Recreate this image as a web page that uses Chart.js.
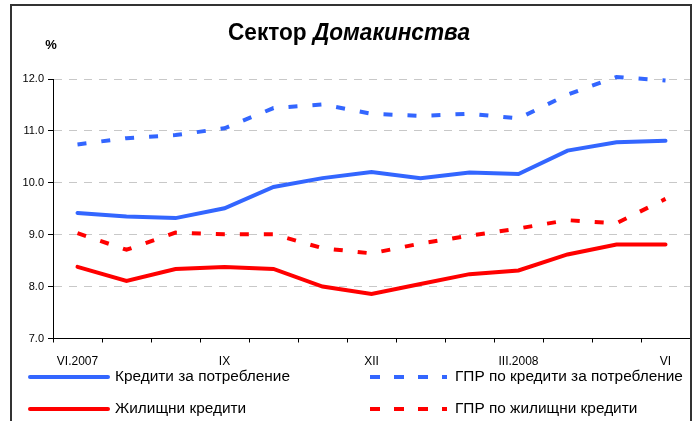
<!DOCTYPE html>
<html>
<head>
<meta charset="utf-8">
<script src="https://cdn.jsdelivr.net/npm/chart.js@4"></script>
<style>
    body { margin: 0; background: #fff; }
    canvas { display: block; }
</style>
</head>
<body>
<canvas id="householdChart" width="698" height="421"></canvas>
<script>
// months VI.2007 - VI.2008, only some of them get a label
const monthLabels = ['VI.2007', '', '', 'IX', '', '', 'XII', '', '', 'III.2008', '', '', 'VI'];
const seriesNames = [
    'Кредити за потребление',
    'ГПР по кредити за потребление',
    'Жилищни кредити',
    'ГПР по жилищни кредити'
];
const consumerRates = [9.42, 9.35, 9.32, 9.51, 9.92, 10.09, 10.21, 10.09, 10.20, 10.17, 10.62, 10.78, 10.81];
const consumerApr = [10.74, 10.86, 10.92, 11.05, 11.44, 11.51, 11.33, 11.29, 11.33, 11.24, 11.70, 12.04, 11.97];
const housingRates = [8.38, 8.11, 8.34, 8.38, 8.34, 8.00, 7.86, 8.05, 8.24, 8.31, 8.62, 8.81, 8.81];
const housingApr = [9.03, 8.71, 9.04, 9.01, 9.01, 8.74, 8.64, 8.83, 8.98, 9.12, 9.28, 9.22, 9.69];
const yTicks = [7, 8, 9, 10, 11, 12];

document.addEventListener('DOMContentLoaded', function () {
    const ctx = document.getElementById('householdChart').getContext('2d');
    const fontFamily = '"Liberation Sans", Arial, sans-serif';
    const blue = '#3366FF';
    const red = '#FF0000';
    const dash = [9, 15];

    // title, "%" label, frame and the legend are drawn by hand
    const extrasPlugin = {
        id: 'extras',
        beforeDraw(chart) {
            const c = chart.ctx;
            c.save();
            c.fillStyle = '#fff';
            c.fillRect(0, 0, chart.width, chart.height);
            c.restore();
        },
        afterDraw(chart) {
            const c = chart.ctx;
            c.save();

            // frame
            c.strokeStyle = '#333';
            c.lineWidth = 2;
            c.strokeRect(11, 5, 680, 440);

            // title with italic second word
            const part1 = 'Сектор ';
            const part2 = 'Домакинства';
            c.fillStyle = '#000';
            c.textBaseline = 'alphabetic';
            c.font = 'bold 23px ' + fontFamily;
            const w1 = c.measureText(part1).width;
            c.font = 'italic bold 23px ' + fontFamily;
            const w2 = c.measureText(part2).width;
            const sx = 242 / (w1 + w2);
            c.save();
            c.translate(228, 40);
            c.scale(sx, 1);
            c.font = 'bold 23px ' + fontFamily;
            c.textAlign = 'left';
            c.fillText(part1, 0, 0);
            c.font = 'italic bold 23px ' + fontFamily;
            c.fillText(part2, w1, 0);
            c.restore();

            // unit
            c.font = 'bold 13px ' + fontFamily;
            c.textAlign = 'center';
            c.fillText('%', 51, 49);

            // legend, two columns
            const cols = [{ x1: 30, x2: 108, tx: 115 }, { x1: 370, x2: 447, tx: 455 }];
            const rows = [377, 409];
            chart.data.datasets.forEach((ds, i) => {
                const col = cols[i % 2];
                const y = rows[Math.floor(i / 2)];
                c.save();
                c.strokeStyle = ds.borderColor;
                c.lineWidth = ds.borderWidth;
                c.lineCap = ds.borderDash ? 'butt' : 'round';
                c.setLineDash(ds.borderDash ? [10, 14] : []);
                c.beginPath();
                c.moveTo(col.x1, y);
                c.lineTo(col.x2, y);
                c.stroke();
                c.restore();
                c.font = '15.4px ' + fontFamily;
                c.textAlign = 'left';
                c.textBaseline = 'middle';
                c.fillStyle = '#000';
                c.fillText(ds.label, col.tx, y);
            });
            c.restore();
        }
    };

    const makeLine = (label, data, color, dashed) => ({
        label: label,
        data: data,
        borderColor: color,
        backgroundColor: color,
        borderWidth: 4,
        borderDash: dashed ? dash : undefined,
        borderCapStyle: dashed ? 'butt' : 'round',
        pointRadius: 0,
        tension: 0,
        fill: false,
        clip: false
    });

    new Chart(ctx, {
        type: 'line',
        data: {
            labels: monthLabels,
            datasets: [
                makeLine(seriesNames[0], consumerRates, blue, false),
                makeLine(seriesNames[1], consumerApr, blue, true),
                makeLine(seriesNames[2], housingRates, red, false),
                makeLine(seriesNames[3], housingApr, red, true)
            ]
        },
        options: {
            responsive: false,
            animation: false,
            devicePixelRatio: 1,
            layout: { padding: { top: 79, right: 8, left: 0, bottom: 0 } },
            plugins: {
                legend: { display: false },
                title: { display: false },
                tooltip: { enabled: false }
            },
            scales: {
                x: {
                    offset: true,
                    afterFit: (scale) => { scale.height = 82.5; },
                    grid: {
                        offset: true,
                        drawOnChartArea: false,
                        drawTicks: true,
                        tickLength: 4,
                        tickColor: '#000'
                    },
                    border: { color: '#000', width: 1 },
                    ticks: {
                        autoSkip: false,
                        maxRotation: 0,
                        padding: 12,
                        color: '#000',
                        font: { family: fontFamily, size: 12 }
                    }
                },
                y: {
                    min: yTicks[0],
                    max: yTicks[yTicks.length - 1],
                    afterFit: (scale) => { scale.width = 53; },
                    afterBuildTicks: (scale) => {
                        scale.ticks = yTicks.map(v => ({ value: v }));
                    },
                    grid: {
                        color: (c) => (c.tick && c.tick.value === yTicks[0]) ? 'rgba(0,0,0,0)' : '#c8c8c8',
                        tickColor: '#000',
                        tickLength: 5,
                        lineWidth: 1
                    },
                    border: { color: '#000', width: 1, dash: [8, 7] },
                    ticks: {
                        padding: 4,
                        color: '#000',
                        font: { family: fontFamily, size: 11 },
                        callback: (v) => Number(v).toFixed(1)
                    }
                }
            }
        },
        plugins: [extrasPlugin]
    });
});
</script>
</body>
</html>
